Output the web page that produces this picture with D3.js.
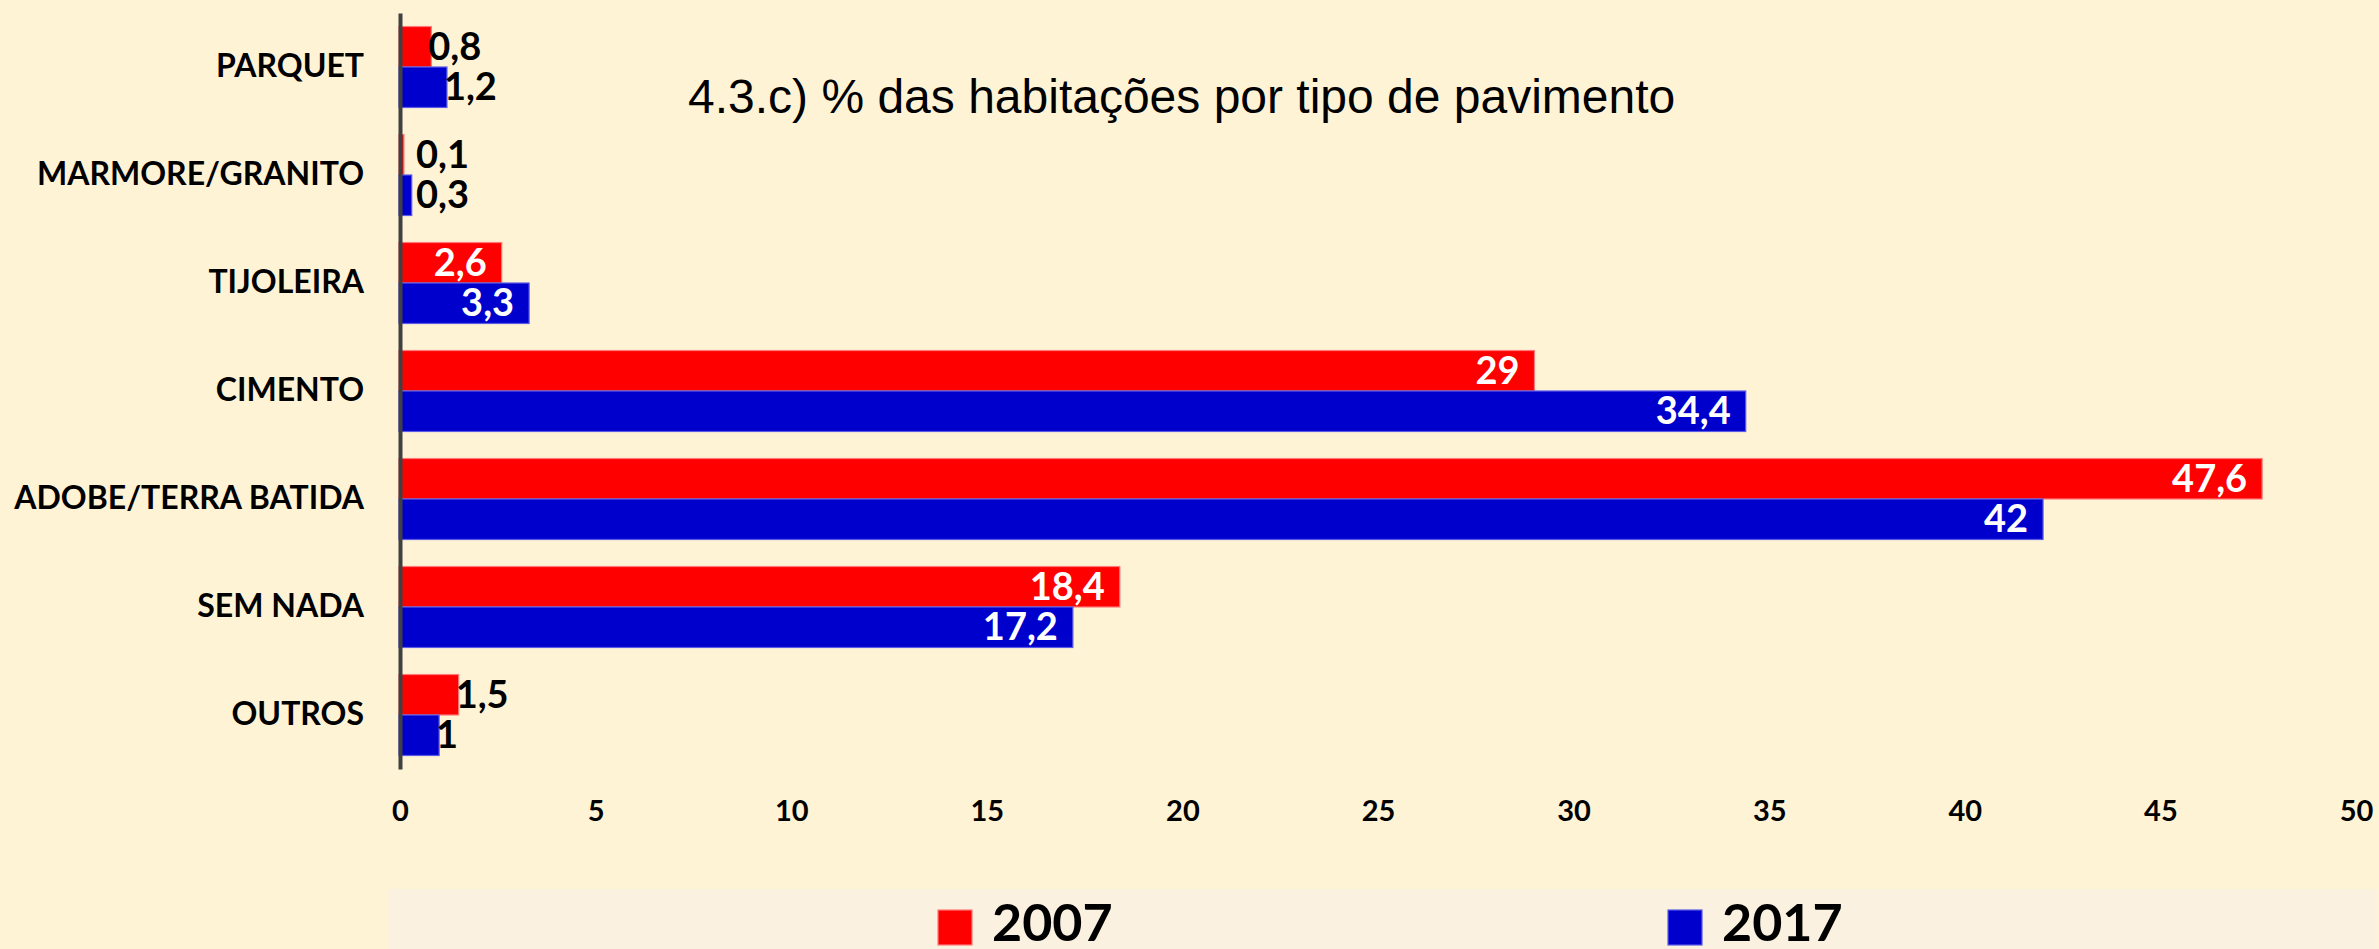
<!DOCTYPE html>
<html>
<head>
<meta charset="utf-8">
<script src="https://cdn.jsdelivr.net/npm/d3@7"></script>
<style>
  html, body { margin: 0; padding: 0; background: #FFF3D6; }
  svg { display: block; }
</style>
</head>
<body>
<svg id="chart" width="2379" height="949"></svg>
<script>
// Floor types and share of dwellings (%) per survey year
const categories = ["PARQUET", "MARMORE/GRANITO", "TIJOLEIRA", "CIMENTO", "ADOBE/TERRA BATIDA", "SEM NADA", "OUTROS"];
const values2007 = [0.8, 0.1, 2.6, 29, 47.6, 18.4, 1.5];
const values2017 = [1.2, 0.3, 3.3, 34.4, 42, 17.2, 1];
const seriesNames = ["2007", "2017"];
const xTicks = [0, 5, 10, 15, 20, 25, 30, 35, 40, 45, 50];
const titleText = "4.3.c) % das habitações por tipo de pavimento";

const W = 2379, H = 949;
const colors = { "2007": "#FF0000", "2017": "#0000CC" };
const strokes = { "2007": "#FF7A7A", "2017": "#5A5AE6" };
const labelFont = "Lato, 'Open Sans', sans-serif";

const svg = d3.select("#chart");
svg.append("rect").attr("width", W).attr("height", H).attr("fill", "#FFF3D6");

const x = d3.scaleLinear().domain([0, 50]).range([400, 2356]);
const y = d3.scaleBand().domain(categories).range([13, 769]).paddingInner(0.25).paddingOuter(0.125);
const ySub = d3.scaleBand().domain(seriesNames).range([0, y.bandwidth()]);

const rows = categories.map((c, i) => ({ cat: c, vals: [
  { key: "2007", v: values2007[i] },
  { key: "2017", v: values2017[i] }
]}));

// Bars
const groups = svg.append("g").selectAll("g").data(rows).join("g")
  .attr("transform", d => `translate(0,${y(d.cat)})`);

groups.selectAll("rect").data(d => d.vals).join("rect")
  .attr("x", x(0) - 1)
  .attr("y", d => ySub(d.key))
  .attr("width", d => x(d.v) - x(0) + 1)
  .attr("height", ySub.bandwidth())
  .attr("fill", d => colors[d.key])
  .attr("stroke", d => strokes[d.key])
  .attr("stroke-width", 1.2);

// Value labels: white inside long bars, black beside short ones
const fmt = v => String(v).replace(".", ",");
groups.selectAll("text").data(d => d.vals).join("text")
  .attr("font-family", labelFont)
  .attr("font-weight", 700)
  .attr("font-size", 38)
  .attr("y", d => ySub(d.key) + ySub.bandwidth() / 2 + 13)
  .attr("x", d => d.v >= 2 ? x(d.v) - 15 : Math.max(x(d.v) - 3, x(0) + 16))
  .attr("text-anchor", d => d.v >= 2 ? "end" : "start")
  .attr("fill", d => d.v >= 2 ? "#FFFFFF" : "#000000")
  .text(d => fmt(d.v));

// Category axis
const yAxis = svg.append("g")
  .attr("transform", `translate(${x(0)},0)`)
  .call(d3.axisLeft(y).tickSize(0).tickPadding(36).tickSizeOuter(0));
yAxis.select(".domain").attr("stroke", "#404040").attr("stroke-width", 4);
yAxis.selectAll("text")
  .attr("font-family", labelFont)
  .attr("font-weight", 700)
  .attr("font-size", 32)
  .attr("fill", "#000");

// Value axis (labels only)
const xAxis = svg.append("g")
  .attr("transform", "translate(0,790)")
  .call(d3.axisBottom(x).tickValues(xTicks).tickSize(0).tickPadding(0).tickFormat(d3.format("d")));
xAxis.select(".domain").remove();
xAxis.selectAll("text")
  .attr("font-family", labelFont)
  .attr("font-weight", 700)
  .attr("font-size", 29)
  .attr("fill", "#000")
  .attr("dy", "1.07em");

// Title
svg.append("text")
  .attr("x", 688).attr("y", 113)
  .attr("font-family", "'Liberation Sans', Arial, sans-serif")
  .attr("font-size", 48)
  .attr("fill", "#000")
  .text(titleText);

// Legend band
svg.append("rect")
  .attr("x", 387).attr("y", 889).attr("width", 1990).attr("height", 70)
  .attr("fill", "#FAF1E0");

const legendX = d3.scaleOrdinal().domain(seriesNames).range([938, 1668]);
const leg = svg.append("g").selectAll("g").data(seriesNames).join("g")
  .attr("transform", d => `translate(${legendX(d)},910)`);
leg.append("rect")
  .attr("width", 34).attr("height", 35)
  .attr("fill", d => colors[d])
  .attr("stroke", d => strokes[d]).attr("stroke-width", 1.2);
leg.append("text")
  .attr("x", 54).attr("y", 31)
  .attr("font-family", labelFont)
  .attr("font-weight", 700)
  .attr("font-size", 52)
  .attr("fill", "#000")
  .text(d => d);
</script>
</body>
</html>
